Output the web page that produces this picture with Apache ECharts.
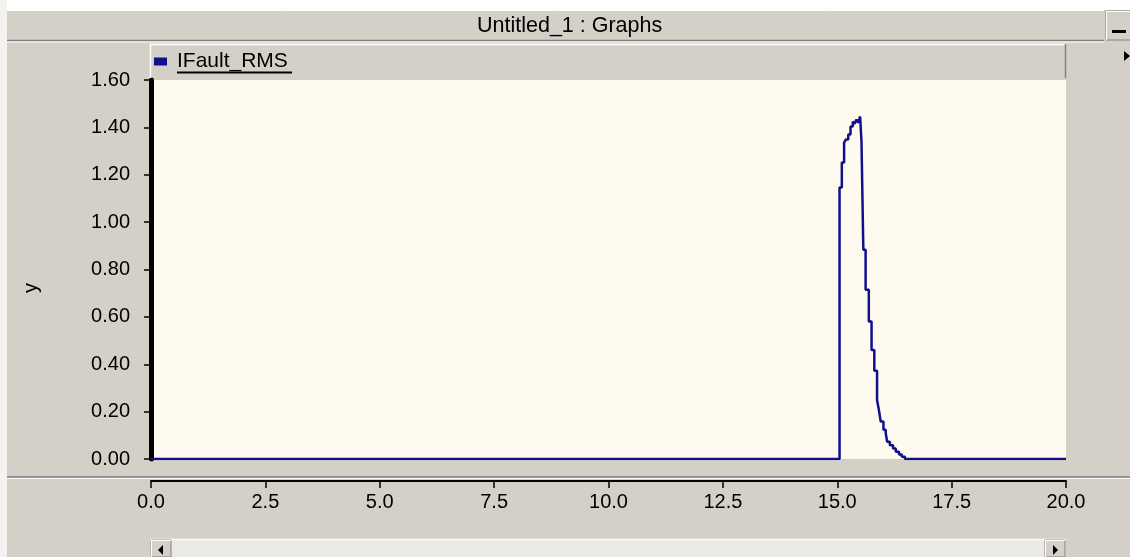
<!DOCTYPE html>
<html>
<head>
<meta charset="utf-8">
<script src="https://cdn.jsdelivr.net/npm/echarts@6/dist/echarts.min.js"></script>
<style>
  html, body { margin: 0; padding: 0; background: #d4d0c8; }
  #chart { width: 1130px; height: 557px; }
</style>
</head>
<body>
<div id="chart"></div>
<script>
// ---- data ----
const chartTitle = 'Untitled_1 : Graphs';
const seriesName = 'IFault_RMS';
const yAxisName = 'y';
const times = [0, 15.05, 15.10, 15.15, 15.19, 15.24, 15.29, 15.34, 15.38, 15.42, 15.46, 15.50,
  15.53, 15.57, 15.62, 15.69, 15.75, 15.81, 15.87, 15.91, 15.95, 16.01, 16.06, 16.09,
  16.15, 16.22, 16.28, 16.35, 16.41, 16.48, 20];
const values = [0, 1.146, 1.252, 1.336, 1.349, 1.370, 1.404, 1.425, 1.415, 1.433, 1.420, 1.446,
  1.340, 0.883, 0.714, 0.580, 0.460, 0.373, 0.249, 0.207, 0.158, 0.123, 0.109, 0.073,
  0.058, 0.044, 0.031, 0.019, 0.009, 0, 0];
const xMin = 0, xMax = 20, xStep = 2.5;
const yMin = 0, yMax = 1.6, yStep = 0.2;

const points = times.map((t, i) => [t, values[i]]);

const FONT = "'Liberation Sans', Arial, sans-serif";
const GRAY = '#d4d0c8', DARK = '#808080', LIGHT = '#ffffff';

const chart = echarts.init(document.getElementById('chart'), null, { renderer: 'canvas' });

function hline(x1, x2, y, color, w) {
  return { type: 'line', z: 1, silent: true, shape: { x1, y1: y, x2, y2: y }, style: { stroke: color, lineWidth: w || 1 } };
}
function vline(x, y1, y2, color, w) {
  return { type: 'line', z: 1, silent: true, shape: { x1: x, y1, x2: x, y2 }, style: { stroke: color, lineWidth: w || 1 } };
}

const graphics = [
  // top white strip and left light strip
  { type: 'rect', z: 0, silent: true, shape: { x: 0, y: 0, width: 1130, height: 10 }, style: { fill: '#ffffff' } },
  { type: 'rect', z: 0, silent: true, shape: { x: 0, y: 0, width: 7, height: 557 }, style: { fill: '#f4f3f0' } },
  // title bar borders
  hline(7, 1104, 10.5, LIGHT),
  hline(7, 1104, 40.5, DARK, 1.5),
  hline(7, 1104, 42, LIGHT),
  // minimize button
  { type: 'rect', z: 1, silent: true, shape: { x: 1106, y: 11, width: 26, height: 29 }, style: { fill: GRAY, stroke: DARK, lineWidth: 1 } },
  hline(1106, 1130, 11.5, LIGHT),
  vline(1106.5, 11, 40, LIGHT),
  { type: 'rect', z: 2, silent: true, shape: { x: 1112, y: 30, width: 14, height: 3 }, style: { fill: '#000' } },
  // right small arrow
  { type: 'polygon', z: 2, silent: true, shape: { points: [[1124, 51], [1130, 56], [1124, 61]] }, style: { fill: '#000' } },
  // legend bar
  { type: 'rect', z: 0, silent: true, shape: { x: 150, y: 44, width: 916, height: 34 }, style: { fill: GRAY } },
  hline(150, 1066, 44.5, LIGHT, 1.5),
  vline(150.5, 44, 78, LIGHT, 1.5),
  vline(1065.5, 44, 78, DARK, 1.5),
  // legend text underline
  hline(177, 292, 72.5, '#000', 2),
  // separator above x axis
  hline(7, 1130, 477, DARK, 1.5),
  hline(7, 1130, 478.5, LIGHT, 1),
  // y axis name
  { type: 'text', z: 3, silent: true, x: 31, y: 288, rotation: Math.PI / 2,
    style: { text: yAxisName, font: '20px ' + FONT, fill: '#000', align: 'center', verticalAlign: 'middle' } },
  // scrollbar
  { type: 'rect', z: 0, silent: true, shape: { x: 150, y: 539, width: 916, height: 18 }, style: { fill: '#ebe9e3' } },
  hline(150, 1066, 539.5, LIGHT, 1.5),
  { type: 'rect', z: 1, silent: true, shape: { x: 151, y: 540, width: 20, height: 17 }, style: { fill: GRAY, stroke: DARK, lineWidth: 1 } },
  vline(151.5, 540, 557, LIGHT),
  hline(151, 171, 540.5, LIGHT),
  { type: 'polygon', z: 2, silent: true, shape: { points: [[163, 545], [158, 550], [163, 555]] }, style: { fill: '#000' } },
  { type: 'rect', z: 1, silent: true, shape: { x: 1045, y: 540, width: 20, height: 17 }, style: { fill: GRAY, stroke: DARK, lineWidth: 1 } },
  vline(1045.5, 540, 557, LIGHT),
  hline(1045, 1065, 540.5, LIGHT),
  { type: 'polygon', z: 2, silent: true, shape: { points: [[1053, 545], [1058, 550], [1053, 555]] }, style: { fill: '#000' } }
];

chart.setOption({
  animation: false,
  backgroundColor: GRAY,
  textStyle: { fontFamily: FONT },
  title: {
    text: chartTitle,
    left: 477, top: 14, padding: 0,
    textStyle: { fontSize: 21.5, fontWeight: 'normal', color: '#000', fontFamily: FONT, lineHeight: 24 }
  },
  legend: {
    show: true,
    data: [seriesName],
    left: 154, top: 51, padding: 0,
    itemWidth: 13, itemHeight: 8,
    icon: 'rect',
    z: 10,
    formatter: name => '{n|' + name + '}',
    textStyle: {
      color: '#000', fontSize: 21, fontFamily: FONT,
      rich: { n: { color: '#000', fontSize: 21, fontFamily: FONT, padding: [0, 0, 0, 5] } }
    }
  },
  graphic: { elements: graphics },
  grid: {
    left: 151, right: 64, top: 80, bottom: 98,
    show: true, backgroundColor: '#fffaef', borderWidth: 0
  },
  xAxis: {
    type: 'value', min: xMin, max: xMax, interval: xStep,
    offset: 22,
    axisLine: { show: true, onZero: false, lineStyle: { color: '#000', width: 2 } },
    axisTick: { show: true, length: 7, lineStyle: { color: '#000', width: 1.5 } },
    axisLabel: { margin: 11, fontSize: 20, color: '#000', fontFamily: FONT, formatter: v => v.toFixed(1) },
    splitLine: { show: false }
  },
  yAxis: {
    type: 'value', min: yMin, max: yMax, interval: yStep,
    axisLine: { show: true, onZero: false, lineStyle: { color: '#000', width: 5 } },
    axisTick: { show: true, length: 7, lineStyle: { color: '#000', width: 1.5 } },
    axisLabel: { margin: 21, fontSize: 20, color: '#000', fontFamily: FONT, formatter: v => v.toFixed(2) },
    splitLine: { show: false }
  },
  series: [{
    name: seriesName,
    type: 'line',
    step: 'end',
    data: points,
    showSymbol: false,
    symbol: 'none',
    color: '#10108c',
    lineStyle: { color: '#10108c', width: 2.5 },
    z: 3
  }]
});
</script>
</body>
</html>
